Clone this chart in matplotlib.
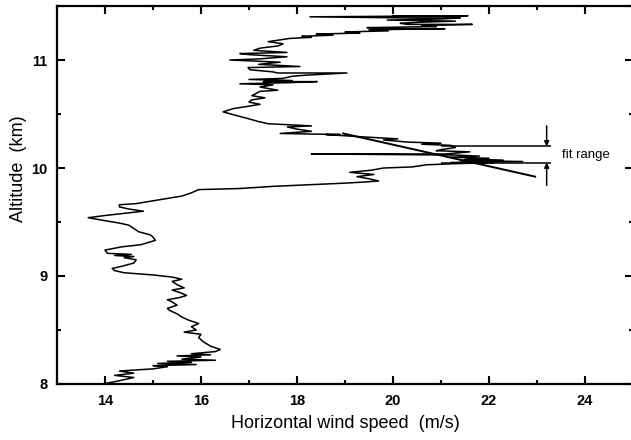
import matplotlib
matplotlib.use("Agg")
import matplotlib.pyplot as plt

# wind profile (altitude in km, speed in m/s)
altitude = [
    8.00, 8.03, 8.06, 8.08, 8.10, 8.12, 8.14, 8.16, 8.17, 8.18, 8.19, 8.20,
    8.21, 8.22, 8.23, 8.25, 8.26, 8.27, 8.28, 8.30, 8.32, 8.35, 8.39, 8.43,
    8.46, 8.48, 8.50, 8.53, 8.56, 8.59, 8.62, 8.65, 8.68, 8.70, 8.73, 8.76,
    8.78, 8.80, 8.82, 8.84, 8.87, 8.89, 8.92, 8.95, 8.97, 8.99, 9.01, 9.03,
    9.05, 9.07, 9.09, 9.12, 9.15, 9.17, 9.18, 9.19, 9.20, 9.21, 9.24, 9.27,
    9.29, 9.33, 9.36, 9.38, 9.41, 9.44, 9.47, 9.49, 9.52, 9.54, 9.56, 9.58,
    9.60, 9.62, 9.64, 9.66, 9.67, 9.70, 9.74, 9.77, 9.80, 9.81, 9.83, 9.84,
    9.85, 9.86, 9.87, 9.88, 9.90, 9.92, 9.94, 9.96, 9.98, 10.00, 10.01, 10.03,
    10.04, 10.05, 10.05, 10.06, 10.07, 10.07, 10.08, 10.09, 10.10, 10.11, 10.12, 10.13,
    10.13, 10.15, 10.16, 10.17, 10.19, 10.21, 10.22, 10.23, 10.24, 10.26, 10.27, 10.29,
    10.31, 10.31, 10.32, 10.34, 10.36, 10.38, 10.39, 10.41, 10.43, 10.46, 10.49, 10.52,
    10.55, 10.57, 10.59, 10.61, 10.63, 10.65, 10.67, 10.71, 10.72, 10.75, 10.77, 10.78,
    10.79, 10.80, 10.80, 10.81, 10.82, 10.83, 10.85, 10.86, 10.88, 10.88, 10.89, 10.91,
    10.93, 10.94, 10.96, 10.98, 11.00, 11.01, 11.03, 11.05, 11.06, 11.07, 11.09, 11.11,
    11.13, 11.15, 11.17, 11.20, 11.21, 11.22, 11.23, 11.24, 11.25, 11.26, 11.27, 11.28,
    11.29, 11.29, 11.30, 11.31, 11.32, 11.33, 11.33, 11.34, 11.35, 11.36, 11.37, 11.38,
    11.39, 11.39, 11.40, 11.41, 11.41,
]
speed = [
    13.95, 14.3, 14.6, 14.2, 14.6, 14.3, 15.0, 15.3, 15.0, 15.9, 15.1, 15.8,
    15.3, 16.3, 15.6, 16.0, 15.5, 16.2, 15.8, 16.3, 16.4, 16.2, 16.05, 15.95,
    16.0, 15.65, 15.9, 15.8, 15.95, 15.75, 15.6, 15.5, 15.35, 15.3, 15.5, 15.4,
    15.3, 15.55, 15.7, 15.6, 15.4, 15.65, 15.5, 15.4, 15.6, 15.4, 15.0, 14.4,
    14.2, 14.15, 14.35, 14.6, 14.65, 14.4, 14.6, 14.2, 14.55, 14.05, 14.0, 14.35,
    14.75, 15.05, 15.0, 14.95, 14.7, 14.6, 14.5, 14.3, 13.9, 13.65, 14.0, 14.4,
    14.8, 14.5, 14.3, 14.3, 14.65, 15.05, 15.6, 15.8, 15.95, 16.8, 17.5, 18.0,
    18.5, 19.0, 19.4, 19.7, 19.5, 19.25, 19.6, 19.1, 19.55, 19.8, 20.4, 20.7,
    21.3, 22.1, 21.2, 22.7, 21.4, 22.3, 21.5, 22.0, 21.2, 21.8, 21.3, 18.3,
    21.1, 21.6, 20.9, 21.0, 21.3, 21.2, 20.6, 21.0, 20.3, 19.8, 20.1, 19.3,
    18.6, 18.9, 17.65, 18.3, 18.0, 17.8, 18.3, 17.4, 17.2, 16.96, 16.7, 16.46,
    16.67, 16.96, 17.23, 17.0, 17.05, 17.33, 17.06, 17.23, 17.6, 17.23, 17.5, 16.81,
    17.8, 18.42, 17.3, 17.9, 17.0, 17.71, 17.9, 18.2, 19.04, 17.6, 17.5, 17.02,
    16.98, 18.06, 17.2, 17.65, 16.6, 17.2, 17.79, 17.0, 16.81, 17.79, 17.1, 17.23,
    17.6, 17.71, 17.4, 17.85, 18.3, 18.1, 18.75, 18.4, 19.31, 19.0, 19.9, 19.5,
    21.08, 20.0, 19.46, 20.9, 20.6, 21.65, 20.3, 20.15, 20.56, 21.3, 19.88, 21.0,
    21.4, 20.3, 18.27, 21.56, 20.0,
]

# linear fit over the marked range
fit_speed = [18.96, 22.96]
fit_alt = [10.32, 9.92]
range_lo, range_hi = 10.05, 10.20

plt.rcParams['font.family'] = ['Liberation Sans', 'DejaVu Sans']

fig = plt.figure(figsize=(6.31, 4.40), dpi=100)
ax = fig.add_axes([0.0903, 0.1273, 0.913, 0.859])

ax.plot(speed, altitude, color='black', lw=1.1)
ax.plot(fit_speed, fit_alt, color='black', lw=1.4)

# fit range marks
ax.hlines([range_lo, range_hi], 21.0, 23.3, color='black', lw=1.1)
ax.annotate('', xy=(23.2, range_hi), xytext=(23.2, 10.39),
            arrowprops=dict(arrowstyle='-|>', color='black', lw=1.1, mutation_scale=7,
                            shrinkA=0, shrinkB=0))
ax.annotate('', xy=(23.2, range_lo), xytext=(23.2, 9.84),
            arrowprops=dict(arrowstyle='-|>', color='black', lw=1.1, mutation_scale=7,
                            shrinkA=0, shrinkB=0))
ax.text(23.52, 10.125, 'fit range', fontsize=9.5, va='center', ha='left')

ax.set_xlim(13, 25)
ax.set_ylim(8, 11.5)
ax.set_xticks([14, 16, 18, 20, 22, 24])
ax.set_xticks([13, 15, 17, 19, 21, 23, 25], minor=True)
ax.set_yticks([8, 9, 10, 11])
ax.set_yticks([8.5, 9.5, 10.5, 11.5], minor=True)

ax.tick_params(which='both', direction='in', top=True, right=True, width=1.5)
ax.tick_params(which='major', length=6, labelsize=10.5, pad=7)
ax.tick_params(which='minor', length=3)
for lab in ax.get_xticklabels() + ax.get_yticklabels():
    lab.set_fontweight('bold')
for sp in ax.spines.values():
    sp.set_linewidth(1.6)

ax.set_xlabel('Horizontal wind speed  (m/s)', fontsize=13)
ax.set_ylabel('Altitude  (km)', fontsize=13)
ax.xaxis.set_label_coords(0.5, -0.082)
ax.yaxis.set_label_coords(-0.052, 0.57)

fig.savefig('out.png', dpi=100)
